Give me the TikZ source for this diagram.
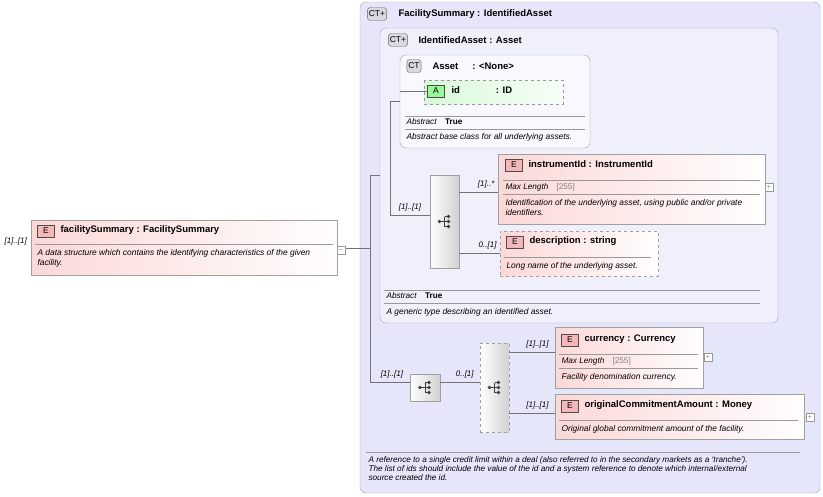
\documentclass[tikz,border=0pt]{standalone}
\usepackage{fontspec}
\setmainfont{Liberation Sans}
\definecolor{ctfill}{HTML}{E6E6FA}
\definecolor{ctedge}{HTML}{A0A0B8}
\definecolor{elpink}{HTML}{FCD8D8}
\definecolor{eledge}{HTML}{A0A0A0}
\definecolor{badgeE}{HTML}{F4B8B8}
\definecolor{attgreen}{HTML}{D8F8D8}
\tikzset{
  ctbox/.style={draw=ctedge, rounded corners=6pt, fill=ctfill},
  elbox/.style={draw=eledge, left color=elpink, right color=white!96!elpink},
  optbox/.style={elbox, dashed},
  seqbox/.style={draw=eledge, left color=white, right color=black!18},
  badge/.style={draw=black!70, fill=badgeE, inner sep=1pt, minimum width=17pt, minimum height=12pt, font=\fontsize{8.5}{9}\selectfont},
  ctbadge/.style={draw=black!60, fill=ctedge!40, rounded corners=3pt, inner sep=1.5pt, minimum height=13pt, font=\fontsize{8.5}{9}\selectfont},
  ttl/.style={anchor=west, font=\bfseries\fontsize{9.5}{11}\selectfont},
  doc/.style={anchor=north west, font=\itshape\fontsize{8.4}{10}\selectfont, align=left},
  meta/.style={anchor=west, font=\fontsize{8.2}{9}\selectfont},
  card/.style={font=\itshape\fontsize{8}{9}\selectfont},
  conn/.style={draw=black!55},
  plusbox/.style={draw=black!40, fill=white, minimum size=8pt, inner sep=0pt, font=\fontsize{7}{7}\selectfont, text=black!50}
}
\newcommand{\seqicon}[1]{%
  \begin{scope}[shift={(#1)}, black!75]
    \draw (-5,0) -- (0,0) (0,-5) -- (0,5) (0,-5) -- (4,-5) (0,0) -- (4,0) (0,5) -- (4,5);
    \fill (-5,0) circle (1.8) (4,-5) circle (1.8) (4,0) circle (1.8) (4,5) circle (1.8);
  \end{scope}}
\begin{document}
\begin{tikzpicture}[x=1pt,y=-1pt]
\useasboundingbox (0,0) rectangle (823,496);

% outer complex type
\draw[ctbox] (360,2) rectangle (820,493);
\node[ctbadge] (ctA) at (377,14) {CT+};
\node[ttl] at (395,14) {FacilitySummary : IdentifiedAsset};
\draw[ctbox, fill=ctfill!60] (380,28) rectangle (778,323);
\node[ctbadge] (ctB) at (398,40) {CT+};
\node[ttl] at (415,40) {IdentifiedAsset : Asset};
\draw[ctbox, fill=white!70!ctfill] (400,55) rectangle (590,148);
\node[ctbadge] (ctC) at (414,66) {CT};
\node[ttl] at (429,66) {Asset\hspace{14pt}: <None>};
\draw[draw=black!40, dashed, left color=attgreen, right color=white!80!attgreen] (424,80) rectangle (563,104);
\node[badge, fill=attgreen!70!green] (idA) at (436,91) {A};
\node[ttl] at (448,90) {id\hspace{36pt}: ID};
\draw[black!40] (405,116) -- (585,116) (405,129) -- (585,129);
\node[meta] at (403,122) {\textit{Abstract}\quad\textbf{True}};
\node[doc] at (403,130) {Abstract base class for all underlying assets.};

% connectors of the complex type
\coordinate (root) at (346,248);
\coordinate (split) at (370,248);
\draw[conn] (root) -- (split) (370,175) -- (370,382) (370,175) -- (380,175);
\draw[conn] (390,101) -- (390,215) (390,101) -- (400,101) (400,91) -- (idA.west);

% first sequence
\node[seqbox, minimum width=29pt, minimum height=93pt, inner sep=0pt] (seqA) at (444.5,221.5) {};
\seqicon{444.5,221.5}
\draw[conn] (390,215) -- (seqA.west |- 0,215) node[card, pos=0.5, above] {[1]..[1]};
\node[elbox, minimum width=267pt, minimum height=70pt, inner sep=0pt] (instr) at (631.5,189) {};
\draw[conn] (seqA.east |- 0,192) -- (instr.west |- 0,192) node[card, pos=0.7, above] {[1]..*};
\node[badge] at (514,165) {E};
\node[ttl] at (525,164) {instrumentId : InstrumentId};
\draw[black!40] (503,180) -- (760,180) (503,194) -- (760,194);
\node[meta] at (502,187) {\textit{Max Length}\quad\textcolor{black!50}{[255]}};
\node[doc] at (502,196) {Identification of the underlying asset, using public and/or private\\identifiers.};
\node[plusbox] at (769,187) {+};
\node[optbox, minimum width=158pt, minimum height=45pt, inner sep=0pt] (descr) at (579,253.5) {};
\draw[conn] (seqA.east |- 0,253) -- (descr.west |- 0,253) node[card, pos=0.7, above] {0..[1]};
\node[badge] at (515,242) {E};
\node[ttl] at (526,241) {description : string};
\draw[black!40] (504,257) -- (651,257);
\node[doc] at (503,259) {Long name of the underlying asset.};
\draw[black!40] (384,290) -- (760,290) (384,303) -- (760,303);
\node[meta] at (383,296) {\textit{Abstract}\quad\textbf{True}};
\node[doc] at (383,305) {A generic type describing an identified asset.};

% second sequence and choice
\node[seqbox, minimum width=30pt, minimum height=27pt, inner sep=0pt] (seqB) at (425,387.5) {};
\seqicon{425,387.5}
\draw[conn] (370,382) -- (seqB.west |- 0,382) node[card, pos=0.55, above] {[1]..[1]};
\node[seqbox, dashed, minimum width=29pt, minimum height=89pt, inner sep=0pt] (choice) at (494.5,387.5) {};
\seqicon{494.5,387.5}
\draw[conn] (seqB.east |- 0,382) -- (choice.west |- 0,382) node[card, pos=0.62, above] {0..[1]};
\node[elbox, minimum width=148pt, minimum height=61pt, inner sep=0pt] (curr) at (629,357.5) {};
\draw[conn] (choice.east |- 0,352) -- (curr.west |- 0,352) node[card, pos=0.62, above] {[1]..[1]};
\node[badge] at (570,340) {E};
\node[ttl] at (581,339) {currency : Currency};
\draw[black!40] (559,354) -- (698,354) (559,368) -- (698,368);
\node[meta] at (558,361) {\textit{Max Length}\quad\textcolor{black!50}{[255]}};
\node[doc] at (558,370) {Facility denomination currency.};
\node[plusbox] at (708,357) {+};
\node[elbox, minimum width=249pt, minimum height=45pt, inner sep=0pt] (orig) at (679.5,416.5) {};
\draw[conn] (choice.east |- 0,413) -- (orig.west |- 0,413) node[card, pos=0.62, above] {[1]..[1]};
\node[badge] at (570,406) {E};
\node[ttl] at (581,405) {originalCommitmentAmount : Money};
\draw[black!40] (559,420) -- (798,420);
\node[doc] at (558,422) {Original global commitment amount of the facility.};
\node[plusbox] at (810,417) {+};
\draw[black!40] (366,452) -- (800,452);
\node[doc, font=\itshape\fontsize{8.2}{9}\selectfont] at (365,453) {A reference to a single credit limit within a deal (also referred to in the secondary markets as a `tranche').\\The list of ids should include the value of the id and a system reference to denote which internal/external\\source created the id.};

% root element
\node[elbox, minimum width=306pt, minimum height=55pt, inner sep=0pt] (facSum) at (184,247.5) {};
\node[card, anchor=west] at (1,241) {[1]..[1]};
\node[badge] at (46,231) {E};
\node[ttl] at (57,230) {facilitySummary : FacilitySummary};
\draw[black!40] (35,244) -- (333,244);
\node[doc] at (34,246) {A data structure which contains the identifying characteristics of the given\\facility.};
\node[plusbox] at (341,250) {--};
\end{tikzpicture}
\end{document}
